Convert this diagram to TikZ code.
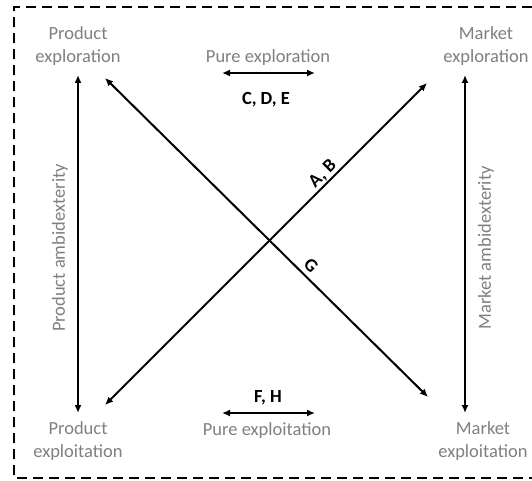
\documentclass[tikz,border=0pt]{standalone}
\usepackage{fontspec}
\setmainfont{Carlito}
\usetikzlibrary{arrows.meta}
\definecolor{lbl}{RGB}{128,128,128}
\tikzset{
  lab/.style={text=lbl, font=\fontsize{18.5}{23}\selectfont, align=center, inner sep=0pt},
  tag/.style={text=black, font=\fontsize{18.5}{22}\selectfont\bfseries, inner sep=0pt},
  darr/.style={line width=2pt, {Latex[length=8pt,width=7pt]}-{Latex[length=8pt,width=7pt]}},
  frame/.style={line width=2.2pt, dash pattern=on 10pt off 6pt}
}
\begin{document}
\begin{tikzpicture}[x=1pt,y=-1pt]
\useasboundingbox (0,0) rectangle (532,481);
\fill[white] (0,0) rectangle (532,481);
\draw[frame] (532,7) -- (14,7) -- (14,478) -- (532,478);
% corner labels
\node[lab] (pexr) at (78,46) {Product\\exploration};
\node[lab] (mexr) at (486,46) {Market\\exploration};
\node[lab] (pexo) at (78,441) {Product\\exploitation};
\node[lab] (mexo) at (483,441) {Market\\exploitation};
\node[lab] (pure1) at (268,58) {Pure exploration};
\node[lab] (pure2) at (267,431) {Pure exploitation};
\node[lab, rotate=90] (pamb) at (60,248) {Product ambidexterity};
\node[lab, rotate=90] (mamb) at (486,248) {Market ambidexterity};
\node[tag] (cde) at (266,100) {C, D, E};
\node[tag] (fh) at (268,398) {F, H};
% endpoints
\coordinate (pl1) at (222,73); \coordinate (pr1) at (315,73);
\coordinate (pl2) at (222,413); \coordinate (pr2) at (315,413);
\coordinate (d1a) at (105,78); \coordinate (d1b) at (428,397);
\coordinate (d2a) at (105,405); \coordinate (d2b) at (427,83);
\coordinate (vl1) at (78,75); \coordinate (vl2) at (78,413);
\coordinate (vr1) at (465,75); \coordinate (vr2) at (465,413);
% arrows
\draw[darr] (pl1) -- (pr1);
\draw[darr] (pl2) -- (pr2);
\draw[darr] (vl1) -- (vl2);
\draw[darr] (vr1) -- (vr2);
\draw[darr] (d1a) -- (d1b);
\draw[darr] (d2a) -- (d2b);
\node[tag, rotate=45] (ab) at (323,174) {A, B};
\node[tag, rotate=-45] (g) at (311,265) {G};
\end{tikzpicture}
\end{document}
